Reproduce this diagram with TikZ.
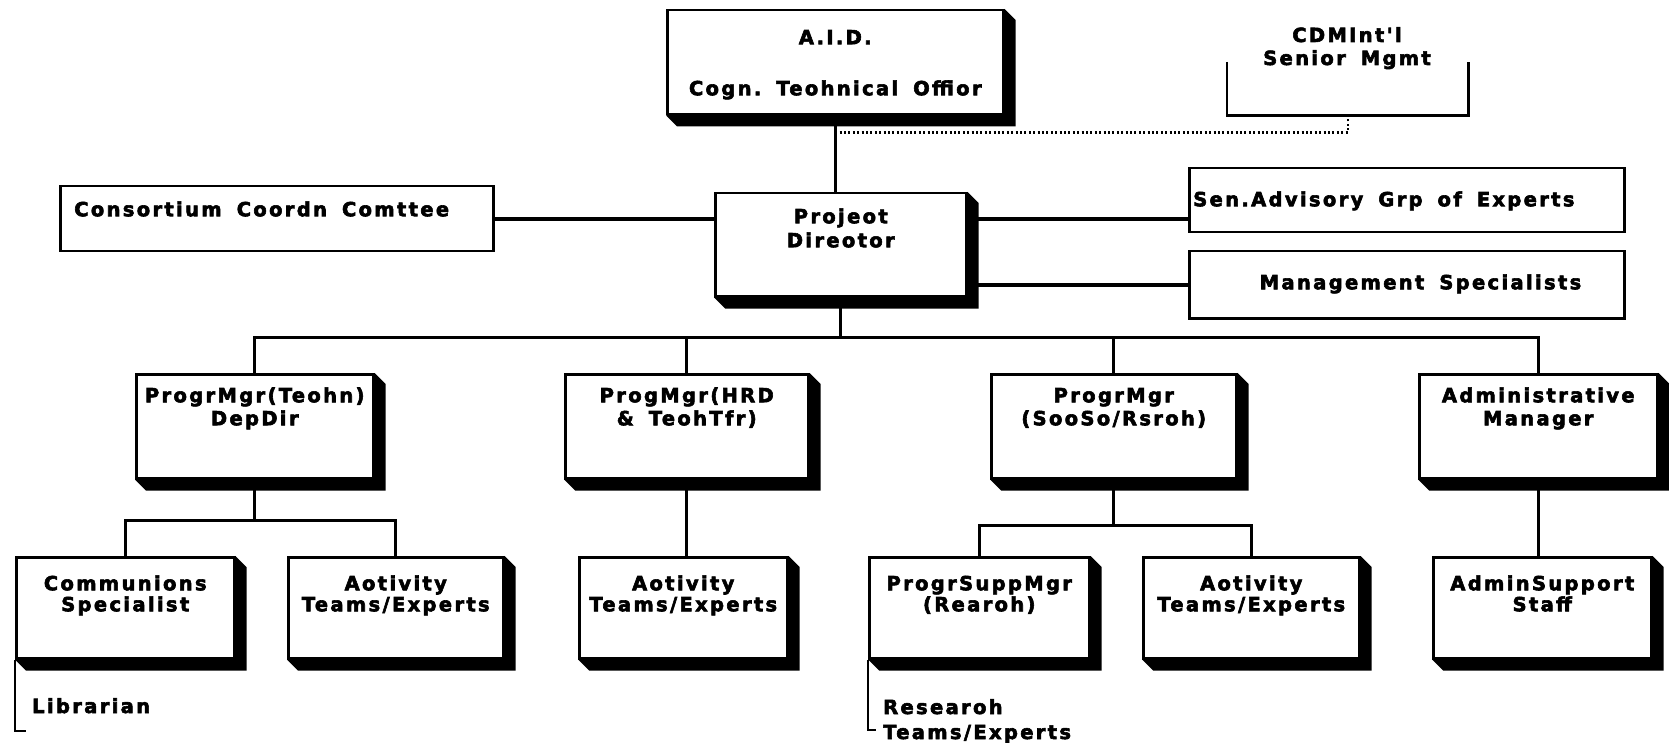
\documentclass[tikz,border=0pt]{standalone}
\usepackage{fontspec}
\newfontfamily\chartfont{DejaVu Sans Bold}[LetterSpace=12, FakeBold=3]
\usetikzlibrary{calc,backgrounds}
\newcommand{\extrude}{11}
\newcommand{\boxrule}{2.5pt}
\newcommand{\wsp}{\hspace{15pt}\ignorespaces}
\newcommand{\chartsize}[1]{\chartfont\fontsize{19.5}{#1}\selectfont}

\tikzset{
  unit/.style={draw, line width=\boxrule, fill=white, inner sep=0pt, align=center},
  mgr/.style={unit, anchor=north west, text height=28pt, text depth=76pt},
  team/.style={unit, anchor=north west, text height=33pt, text depth=68pt, font=\chartsize{21}},
  link/.style={line width=2.6pt},
  heavylink/.style={line width=3.6pt},
  dotline/.style={line width=2.2pt, dash pattern=on 2pt off 2.4pt},
}

\begin{document}
\begin{tikzpicture}[x=1pt, y=-1pt, font=\chartsize{23}]
\useasboundingbox (0,0) rectangle (1669,743);
% top
\node[unit, anchor=north west, text width=336pt, text height=34pt, text depth=70pt] (aid) at (666,9) {A.I.D.\\[28pt]Cogn.\wsp Teohnical\wsp Offior};
\node[anchor=base, align=center, text width=241pt, inner sep=0pt] (cdm) at (1347,42) {CDMInt'l\\Senior\wsp Mgmt};
\node[anchor=north west, inner sep=0pt, minimum width=241pt, minimum height=53pt] (cdmframe) at (1227,62) {};
\node[unit, anchor=north west, text width=251pt, text height=30pt, text depth=73pt] (pd) at (714,192) {Projeot\\[1pt]Direotor};
\node[unit, anchor=north west, align=left, inner xsep=14pt, text width=405pt, text height=30pt, text depth=35pt] (ccc) at (59,185) {Consortium\wsp Coordn\wsp Comttee};
\node[unit, anchor=north west, align=left, inner xsep=4pt, text width=427pt, text height=38pt, text depth=26pt] (sag) at (1188,167) {Sen.Advisory\wsp Grp\wsp of\wsp Experts};
\node[unit, anchor=north west, align=right, inner xsep=43pt, text width=349pt, text height=38pt, text depth=29pt] (ms) at (1188,250) {Management\wsp Specialists};
% managers
\node[mgr, text width=237pt] (pm1) at (135,373) {ProgrMgr(Teohn)\\DepDir};
\node[mgr, text width=243pt] (pm2) at (564,373) {ProgMgr(HRD\\\&\wsp TeohTfr)};
\node[mgr, text width=245pt] (pm3) at (990,373) {ProgrMgr\\(SooSo/Rsroh)};
\node[mgr, text width=238pt] (am) at (1418,373) {Administrative\\Manager};
% teams
\node[team, text width=218pt] (cs) at (15,556) {Communions\\Specialist};
\node[team, text width=215pt] (at1) at (287,556) {Aotivity\\Teams/Experts};
\node[team, text width=208pt] (at2) at (578,556) {Aotivity\\Teams/Experts};
\node[team, text width=220pt] (psm) at (868,556) {ProgrSuppMgr\\(Rearoh)};
\node[team, text width=216pt] (at3) at (1142,556) {Aotivity\\Teams/Experts};
\node[team, text width=218pt] (ass) at (1432,556) {AdminSupport\\Staff};
\node[anchor=base west, inner sep=0pt] (lib) at (32,713) {Librarian};
\node[anchor=base west, inner sep=0pt, align=left, text width=220pt] (rte) at (883,714) {Researoh\\[2pt]Teams/Experts};
%shadows
\begin{scope}[on background layer]
\fill (aid.north east) -- ++(\extrude,\extrude) -- ($(aid.south east)+(\extrude,\extrude)$) -- ($(aid.south west)+(\extrude,\extrude)$) -- (aid.south west) -- cycle;
\fill (pd.north east) -- ++(\extrude,\extrude) -- ($(pd.south east)+(\extrude,\extrude)$) -- ($(pd.south west)+(\extrude,\extrude)$) -- (pd.south west) -- cycle;
\fill (pm1.north east) -- ++(\extrude,\extrude) -- ($(pm1.south east)+(\extrude,\extrude)$) -- ($(pm1.south west)+(\extrude,\extrude)$) -- (pm1.south west) -- cycle;
\fill (pm2.north east) -- ++(\extrude,\extrude) -- ($(pm2.south east)+(\extrude,\extrude)$) -- ($(pm2.south west)+(\extrude,\extrude)$) -- (pm2.south west) -- cycle;
\fill (pm3.north east) -- ++(\extrude,\extrude) -- ($(pm3.south east)+(\extrude,\extrude)$) -- ($(pm3.south west)+(\extrude,\extrude)$) -- (pm3.south west) -- cycle;
\fill (am.north east) -- ++(\extrude,\extrude) -- ($(am.south east)+(\extrude,\extrude)$) -- ($(am.south west)+(\extrude,\extrude)$) -- (am.south west) -- cycle;
\fill (cs.north east) -- ++(\extrude,\extrude) -- ($(cs.south east)+(\extrude,\extrude)$) -- ($(cs.south west)+(\extrude,\extrude)$) -- (cs.south west) -- cycle;
\fill (at1.north east) -- ++(\extrude,\extrude) -- ($(at1.south east)+(\extrude,\extrude)$) -- ($(at1.south west)+(\extrude,\extrude)$) -- (at1.south west) -- cycle;
\fill (at2.north east) -- ++(\extrude,\extrude) -- ($(at2.south east)+(\extrude,\extrude)$) -- ($(at2.south west)+(\extrude,\extrude)$) -- (at2.south west) -- cycle;
\fill (psm.north east) -- ++(\extrude,\extrude) -- ($(psm.south east)+(\extrude,\extrude)$) -- ($(psm.south west)+(\extrude,\extrude)$) -- (psm.south west) -- cycle;
\fill (at3.north east) -- ++(\extrude,\extrude) -- ($(at3.south east)+(\extrude,\extrude)$) -- ($(at3.south west)+(\extrude,\extrude)$) -- (at3.south west) -- cycle;
\fill (ass.north east) -- ++(\extrude,\extrude) -- ($(ass.south east)+(\extrude,\extrude)$) -- ($(ass.south west)+(\extrude,\extrude)$) -- (ass.south west) -- cycle;
\end{scope}
%links
\coordinate (tap) at ($(aid.south)+(0,17)$);
\coordinate (bus1) at ($(pd.south)+(0,40)$);
\coordinate (bus2) at ($(pm1.south)+(0,41)$);
\coordinate (bus3) at ($(pm3.south)+(0,46)$);
\coordinate (libfoot) at (26,731);
\coordinate (rtefoot) at (876,730);
\draw[link] (aid.south) -- (aid.south |- pd.north);
\draw[dotline] (tap) -| (cdmframe.south);
\draw[link] (cdmframe.north west) |- (cdmframe.south) -| (cdmframe.north east);
\draw[heavylink] (ccc.east) -- (ccc.east -| pd.west);
\draw[heavylink] (ccc.east -| pd.east) -- (ccc.east -| sag.west);
\draw[heavylink] (ms.west -| pd.east) -- (ms.west);
\draw[link] (pd.south) -- (bus1);
\draw[link] (pm1.north) |- (bus1) -| (am.north);
\draw[link] (pm2.north) |- (bus1);
\draw[link] (pm3.north) |- (bus1);
\draw[link] (pm1.south) -- (bus2);
\draw[link] (cs.north) |- (bus2) -| (at1.north);
\draw[link] (pm2.south) -- (pm2.south |- at2.north);
\draw[link] (pm3.south) -- (bus3);
\draw[link] (psm.north) |- (bus3) -| (at3.north);
\draw[link] (am.south) -- (am.south |- ass.north);
\draw[link] (cs.south west) |- (libfoot);
\draw[link] (psm.south west) |- (rtefoot);
\end{tikzpicture}
\end{document}
